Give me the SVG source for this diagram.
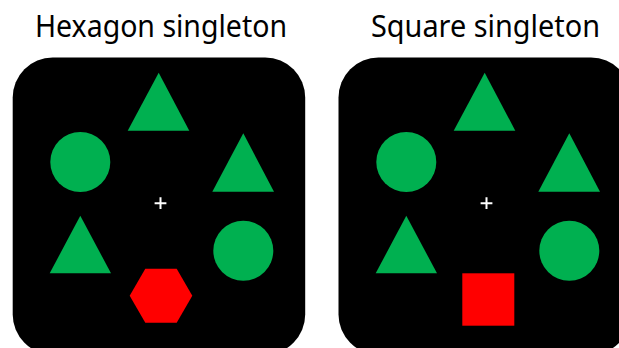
<svg xmlns="http://www.w3.org/2000/svg" width="619" height="348" viewBox="0 0 619 348">
<style>
.title{font-family:"Noto Sans","Open Sans","Liberation Sans",sans-serif;font-size:31px;fill:#000}
.panel{fill:#000}
.g{fill:#00B050}
.r{fill:#FF0000}
.fix{stroke:#fff;stroke-width:2;fill:none}
</style>
<rect width="619" height="348" fill="#fff"/>
<g id="left-panel">
<text class="title" x="161" y="37" text-anchor="middle" textLength="252" lengthAdjust="spacingAndGlyphs">Hexagon singleton</text>
<rect class="panel" x="12.7" y="57.5" width="292.5" height="297" rx="40" ry="40"/>
<g id="l-tri-top"><polygon class="g" points="158.7,72.7 189.3,130.7 127.7,130.7"/></g>
<g id="l-circ-left"><circle class="g" cx="80.3" cy="162" r="30"/></g>
<g id="l-tri-right"><polygon class="g" points="243.3,133.3 274,191.7 212.3,191.7"/></g>
<g id="l-fix"><path class="fix" d="M154.6,203.2H166.4M160.5,197.3V209.1"/></g>
<g id="l-tri-left"><polygon class="g" points="80.3,215.7 111,273.3 49.7,273.3"/></g>
<g id="l-circ-right"><circle class="g" cx="243.3" cy="250.7" r="30"/></g>
<g id="l-hex"><polygon class="r" points="129.7,295.7 145.3,268.7 176.7,268.7 192.3,295.7 176.7,322.7 145.3,322.7"/></g>
</g>
<g id="right-panel">
<text class="title" x="485.5" y="37" text-anchor="middle" textLength="229" lengthAdjust="spacingAndGlyphs">Square singleton</text>
<rect class="panel" x="338.5" y="57.5" width="292.5" height="297" rx="40" ry="40"/>
<g id="r-tri-top"><polygon class="g" points="484.7,72.7 515.3,130.7 453.7,130.7"/></g>
<g id="r-circ-left"><circle class="g" cx="406.3" cy="162" r="30"/></g>
<g id="r-tri-right"><polygon class="g" points="569.3,133.3 600,191.7 538.3,191.7"/></g>
<g id="r-fix"><path class="fix" d="M480.6,203.2H492.4M486.5,197.3V209.1"/></g>
<g id="r-tri-left"><polygon class="g" points="406.3,215.7 437,273.3 375.7,273.3"/></g>
<g id="r-circ-right"><circle class="g" cx="569.3" cy="250.7" r="30"/></g>
<g id="r-square"><rect class="r" x="462.3" y="273.3" width="52" height="52.4"/></g>
</g>
<g id="connectors"></g>
</svg>
